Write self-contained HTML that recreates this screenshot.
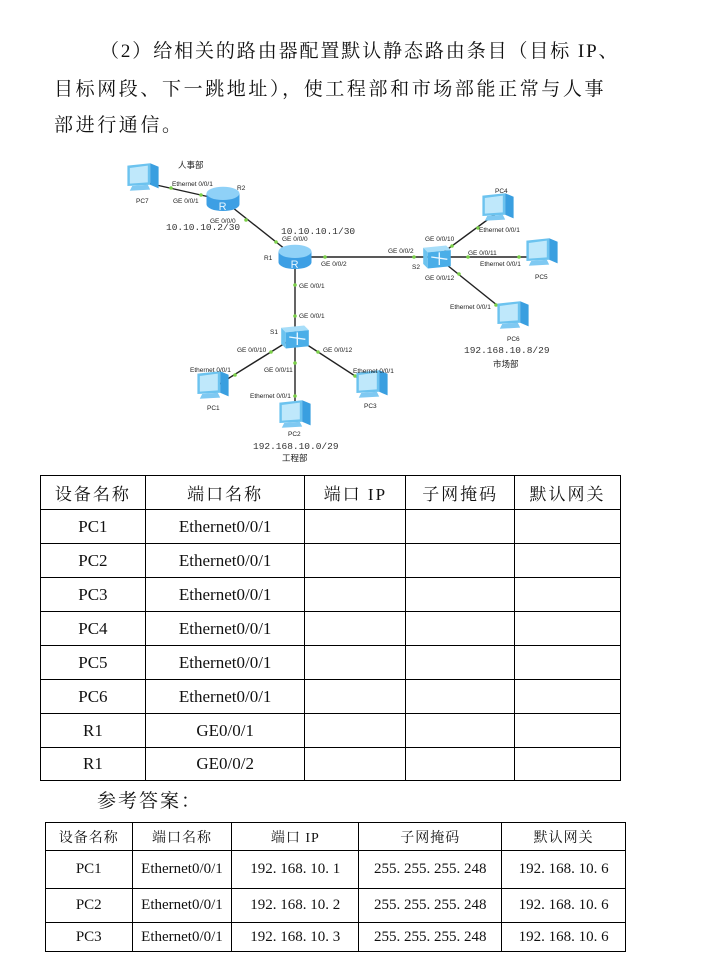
<!DOCTYPE html>
<html><head><meta charset="utf-8">
<style>
body{margin:0;width:703px;height:958px;background:#fff;position:relative;overflow:hidden;font-family:"Liberation Serif","Noto Serif CJK SC",serif;color:#111}
.l{position:absolute;font-size:19px;letter-spacing:3px;white-space:nowrap;line-height:24px}
table{position:absolute;border-collapse:collapse;font-family:"Liberation Serif","Noto Serif CJK SC",serif}
td{border:1px solid #000;text-align:center;padding:0;white-space:nowrap}
#t1 td{font-size:17px}
#t1 tr:first-child td{letter-spacing:2px}
#t2 td{font-size:15px}
#t2 tr:first-child td{font-size:14px;letter-spacing:1px}
svg text{font-family:"Liberation Sans",sans-serif;font-size:6.5px;fill:#222}
svg text.ip{font-family:"Liberation Mono",monospace;font-size:9.5px;fill:#333}
svg text.cn{font-family:"Liberation Sans","Noto Sans CJK SC",sans-serif;font-size:8.5px}
</style></head><body>
<div class="l" style="left:100px;top:40px;letter-spacing:1.9px">（2）给相关的路由器配置默认静态路由条目（目标 IP、</div>
<div class="l" style="left:54px;top:78px;letter-spacing:2.6px">目标网段、下一跳地址），使工程部和市场部能正常与人事</div>
<div class="l" style="left:54px;top:114px;letter-spacing:2.6px">部进行通信。</div>

<svg style="position:absolute;left:0;top:0" width="703" height="470" viewBox="0 0 703 470">
<defs>
<g id="pc0">
<polygon points="-13,-12 6,-14 6,4 -13,5" fill="#6cc3ef"/>
<polygon points="-11,-10 4,-12 4,2 -11,3" fill="#bfe8fb"/>
<polygon points="6,-14 13,-11 13,7 6,4" fill="#3a9fe0"/>
<polygon points="-9,5 4,4 6,8 -11,9" fill="#7fc9f2"/>
</g>
<g id="pc"><use href="#pc0" transform="scale(1.2)"/></g>
<g id="rt0">
<rect x="-15" y="-6" width="30" height="10" fill="#3d9fe4"/>
<ellipse cx="0" cy="4" rx="15" ry="6" fill="#3d9fe4"/>
<ellipse cx="0" cy="-6" rx="15" ry="6" fill="#8fd1f7"/>
<text x="-4" y="9" style="font-size:10px;fill:#e8f6ff">R</text>
</g>
<g id="rt"><use href="#rt0" transform="scale(1.1)"/></g>
<g id="sw0">
<polygon points="-12,-8 8,-10 12,-6 -8,-4" fill="#a8def9"/>
<polygon points="-12,-8 -8,-4 -8,10 -12,6" fill="#6cc3ef"/>
<polygon points="-8,-4 12,-6 12,8 -8,10" fill="#4aaee8"/>
<path d="M-5,0 L9,2 M2,-4 L2,7" stroke="#e8f6ff" stroke-width="1.2"/>
</g>
<g id="sw"><use href="#sw0" transform="scale(1.15)"/></g>
</defs>
<g stroke="#222" stroke-width="1.4">
<line x1="143" y1="182" x2="223" y2="200"/>
<line x1="223" y1="200" x2="295" y2="257"/>
<line x1="295" y1="257" x2="437" y2="257"/>
<line x1="295" y1="257" x2="295" y2="337"/>
<line x1="437" y1="257" x2="498" y2="212"/>
<line x1="437" y1="257" x2="542" y2="257"/>
<line x1="437" y1="257" x2="513" y2="318"/>
<line x1="295" y1="337" x2="213" y2="388"/>
<line x1="295" y1="337" x2="295" y2="417"/>
<line x1="295" y1="337" x2="372" y2="387"/>
</g>
<g fill="#7cd04a">
<circle cx="171" cy="188" r="1.8"/><circle cx="201" cy="195" r="1.8"/>
<circle cx="246" cy="220" r="1.8"/><circle cx="276" cy="242" r="1.8"/>
<circle cx="325" cy="257" r="1.8"/><circle cx="414" cy="257" r="1.8"/>
<circle cx="295" cy="285" r="1.8"/><circle cx="295" cy="316" r="1.8"/>
<circle cx="452" cy="246" r="1.8"/><circle cx="478" cy="228" r="1.8"/>
<circle cx="468" cy="257" r="1.8"/><circle cx="519" cy="257" r="1.8"/>
<circle cx="459" cy="274" r="1.8"/><circle cx="496" cy="305" r="1.8"/>
<circle cx="271" cy="352" r="1.8"/><circle cx="235" cy="375" r="1.8"/>
<circle cx="295" cy="363" r="1.8"/><circle cx="295" cy="396" r="1.8"/>
<circle cx="318" cy="352" r="1.8"/><circle cx="355" cy="376" r="1.8"/>
</g>
<use href="#pc" x="143" y="180"/>
<use href="#rt" x="223" y="200"/>
<use href="#rt" x="295" y="258"/>
<use href="#sw" x="437" y="257"/>
<use href="#sw" x="295" y="337"/>
<use href="#pc" x="498" y="210"/>
<use href="#pc" x="542" y="255"/>
<use href="#pc" x="513" y="318"/>
<use href="#pc" x="213" y="388"/>
<use href="#pc" x="295" y="417"/>
<use href="#pc" x="372" y="387"/>
<text class="cn" x="178" y="168">人事部</text>
<text x="172" y="186">Ethernet 0/0/1</text>
<text x="173" y="203">GE 0/0/1</text>
<text x="237" y="190">R2</text>
<text x="136" y="203">PC7</text>
<text x="210" y="223">GE 0/0/0</text>
<text class="ip" x="166" y="230">10.10.10.2/30</text>
<text class="ip" x="281" y="234">10.10.10.1/30</text>
<text x="282" y="241">GE 0/0/0</text>
<text x="264" y="260">R1</text>
<text x="321" y="266">GE 0/0/2</text>
<text x="388" y="253">GE 0/0/2</text>
<text x="412" y="269">S2</text>
<text x="425" y="241">GE 0/0/10</text>
<text x="425" y="280">GE 0/0/12</text>
<text x="468" y="255">GE 0/0/11</text>
<text x="479" y="232">Ethernet 0/0/1</text>
<text x="480" y="266">Ethernet 0/0/1</text>
<text x="495" y="193">PC4</text>
<text x="535" y="279">PC5</text>
<text x="450" y="309">Ethernet 0/0/1</text>
<text x="507" y="341">PC6</text>
<text class="ip" x="464" y="353">192.168.10.8/29</text>
<text class="cn" x="493" y="367">市场部</text>
<text x="299" y="288">GE 0/0/1</text>
<text x="299" y="318">GE 0/0/1</text>
<text x="270" y="334">S1</text>
<text x="237" y="352">GE 0/0/10</text>
<text x="264" y="372">GE 0/0/11</text>
<text x="323" y="352">GE 0/0/12</text>
<text x="190" y="372">Ethernet 0/0/1</text>
<text x="250" y="398">Ethernet 0/0/1</text>
<text x="353" y="373">Ethernet 0/0/1</text>
<text x="207" y="410">PC1</text>
<text x="288" y="436">PC2</text>
<text x="364" y="408">PC3</text>
<text class="ip" x="253" y="449">192.168.10.0/29</text>
<text class="cn" x="282" y="461">工程部</text>
</svg>

<table id="t1" style="left:40px;top:475px;width:581px">
<colgroup><col style="width:105px"><col style="width:160px"><col style="width:101px"><col style="width:109px"><col style="width:106px"></colgroup>
<tr style="height:34px"><td>设备名称</td><td>端口名称</td><td>端口 IP</td><td>子网掩码</td><td>默认网关</td></tr>
<tr style="height:34px"><td>PC1</td><td>Ethernet0/0/1</td><td></td><td></td><td></td></tr>
<tr style="height:34px"><td>PC2</td><td>Ethernet0/0/1</td><td></td><td></td><td></td></tr>
<tr style="height:34px"><td>PC3</td><td>Ethernet0/0/1</td><td></td><td></td><td></td></tr>
<tr style="height:34px"><td>PC4</td><td>Ethernet0/0/1</td><td></td><td></td><td></td></tr>
<tr style="height:34px"><td>PC5</td><td>Ethernet0/0/1</td><td></td><td></td><td></td></tr>
<tr style="height:34px"><td>PC6</td><td>Ethernet0/0/1</td><td></td><td></td><td></td></tr>
<tr style="height:34px"><td>R1</td><td>GE0/0/1</td><td></td><td></td><td></td></tr>
<tr style="height:33px"><td>R1</td><td>GE0/0/2</td><td></td><td></td><td></td></tr>
</table>

<div class="l" style="left:97px;top:790px;letter-spacing:2px">参考答案：</div>

<table id="t2" style="left:45px;top:822px;width:581px">
<colgroup><col style="width:84px"><col style="width:97px"><col style="width:123px"><col style="width:139px"><col style="width:120px"></colgroup>
<tr style="height:28px"><td>设备名称</td><td>端口名称</td><td>端口 IP</td><td>子网掩码</td><td>默认网关</td></tr>
<tr style="height:38px"><td>PC1</td><td>Ethernet0/0/1</td><td>192. 168. 10. 1</td><td>255. 255. 255. 248</td><td>192. 168. 10. 6</td></tr>
<tr style="height:34px"><td>PC2</td><td>Ethernet0/0/1</td><td>192. 168. 10. 2</td><td>255. 255. 255. 248</td><td>192. 168. 10. 6</td></tr>
<tr style="height:29px"><td>PC3</td><td>Ethernet0/0/1</td><td>192. 168. 10. 3</td><td>255. 255. 255. 248</td><td>192. 168. 10. 6</td></tr>
</table>
</body></html>
